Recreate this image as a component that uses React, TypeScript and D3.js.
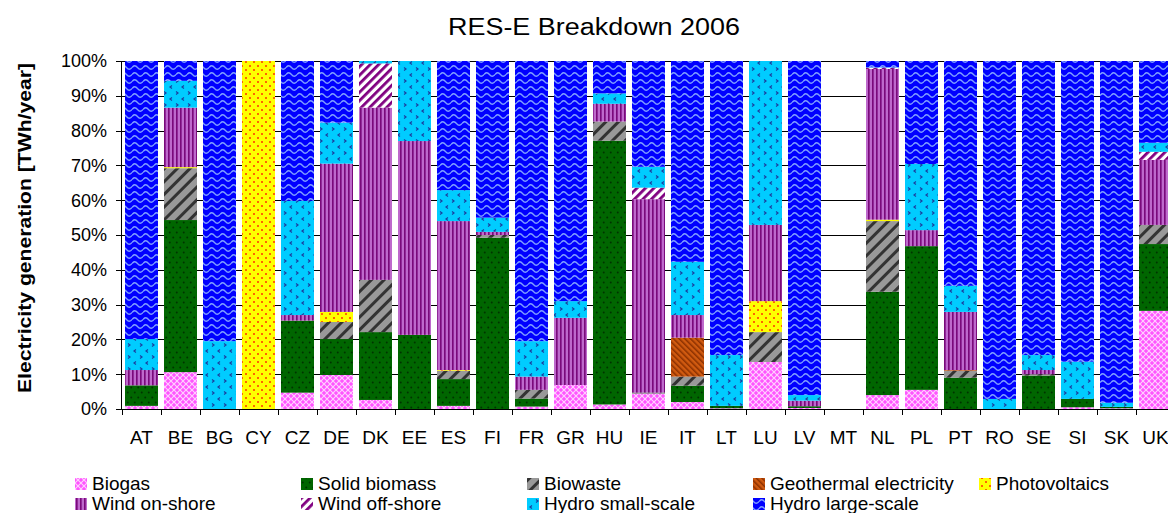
import * as d3 from "d3";

// categories
const countries = ["AT", "BE", "BG", "CY", "CZ", "DE", "DK", "EE", "ES", "FI", "FR", "GR", "HU", "IE", "IT", "LT", "LU", "LV", "MT", "NL", "PL", "PT", "RO", "SE", "SI", "SK", "UK"];

// shares in % per country
const biogas = [0.9, 10.6, 0, 0, 4.7, 9.8, 2.6, 0, 0.9, 0, 0.7, 6.9, 1.3, 4.5, 2.0, 0.2, 13.5, 0.3, 0, 4.0, 5.5, 0, 0, 0, 0.5, 0.2, 28.2];
const solidBiomass = [5.9, 43.7, 0, 0, 20.7, 10.3, 19.5, 21.3, 7.7, 49.2, 2.3, 0, 75.8, 0.2, 4.7, 0.7, 0, 0.5, 0, 29.7, 41.3, 9.0, 0, 9.6, 2.4, 0.4, 19.2];
const biowaste = [0, 14.9, 0, 0, 0, 4.9, 15.0, 0, 2.4, 0.8, 2.5, 0, 5.5, 0, 2.6, 0, 8.6, 0, 0, 20.3, 0, 2.0, 0, 0.4, 0, 0, 5.5];
const geothermal = [0, 0, 0, 0, 0, 0, 0, 0, 0, 0, 0, 0, 0, 0, 11.2, 0, 0, 0, 0, 0, 0, 0.2, 0, 0, 0, 0, 0];
const photovoltaics = [0, 0.3, 0, 100, 0, 2.9, 0, 0, 0.2, 0, 0, 0, 0, 0, 0, 0, 8.9, 0, 0, 0.4, 0, 0, 0, 0, 0, 0, 0];
const windOnShore = [4.4, 17.1, 0, 0, 1.6, 42.6, 49.5, 55.7, 42.8, 0.9, 3.8, 19.3, 5.1, 55.6, 6.5, 0, 21.9, 1.6, 0, 43.3, 4.6, 16.7, 0, 1.2, 0, 0, 18.7];
const windOffShore = [0, 0, 0, 0, 0, 0, 12.7, 0, 0, 0, 0, 0, 0, 3.3, 0, 0, 0, 0, 0, 0.4, 0, 0, 0, 0, 0, 0, 2.3];
const hydroSmall = [8.9, 7.7, 19.5, 0, 32.8, 11.8, 0.7, 23.0, 8.9, 4.1, 10.2, 4.8, 3.0, 6.0, 15.3, 14.6, 47.1, 1.6, 0, 0.1, 19.0, 7.5, 2.9, 4.3, 10.7, 1.2, 2.6];
const hydroLarge = [79.9, 5.7, 80.5, 0, 40.2, 17.7, 0, 0, 37.1, 45.0, 80.5, 69.0, 9.3, 30.4, 57.7, 84.5, 0, 96.0, 0, 1.8, 29.6, 64.6, 97.1, 84.5, 86.4, 98.2, 23.5];

const seriesNames = ["Biogas", "Solid biomass", "Biowaste", "Geothermal electricity", "Photovoltaics", "Wind on-shore", "Wind off-shore", "Hydro small-scale", "Hydro large-scale"];
const seriesValues = [biogas, solidBiomass, biowaste, geothermal, photovoltaics, windOnShore, windOffShore, hydroSmall, hydroLarge];
const yTicks = [0, 10, 20, 30, 40, 50, 60, 70, 80, 90, 100];

const patternIds = ["pBiogas", "pSolid", "pBiowaste", "pGeo", "pPV", "pWindOn", "pWindOff", "pHydroS", "pHydroL"];
const font = "'Liberation Sans', Arial, sans-serif";

const Patterns = () => (
  <defs>
    <pattern id="pBiogas" patternUnits="userSpaceOnUse" width="6" height="6">
      <rect width="6" height="6" fill="#ff55ff" />
      <path d="M0,0 L6,6 M6,0 L0,6" stroke="#ffd0ff" strokeWidth="1.2" />
    </pattern>
    <pattern id="pSolid" patternUnits="userSpaceOnUse" width="7" height="10">
      <rect width="7" height="10" fill="#006600" />
      <circle cx="1.75" cy="2.5" r="1" fill="#003300" />
      <circle cx="5.25" cy="7.5" r="1" fill="#003300" />
    </pattern>
    <pattern id="pBiowaste" patternUnits="userSpaceOnUse" width="9" height="9" patternTransform="rotate(45)">
      <rect width="9" height="9" fill="#999999" />
      <rect width="3" height="9" fill="#333333" />
    </pattern>
    <pattern id="pGeo" patternUnits="userSpaceOnUse" width="4" height="4" patternTransform="rotate(-45)">
      <rect width="4" height="4" fill="#d05a10" />
      <rect width="1.5" height="4" fill="#8b3000" />
    </pattern>
    <pattern id="pPV" patternUnits="userSpaceOnUse" width="8" height="8">
      <rect width="8" height="8" fill="#ffff00" />
      <circle cx="2" cy="2" r="1" fill="#ff3300" />
      <circle cx="6" cy="6" r="1" fill="#ff3300" />
    </pattern>
    <pattern id="pWindOn" patternUnits="userSpaceOnUse" width="4" height="4">
      <rect width="4" height="4" fill="#a848b8" />
      <rect x="0" width="1.5" height="4" fill="#7a0a7a" />
      <rect x="2.5" width="1" height="4" fill="#d58ae0" />
    </pattern>
    <pattern id="pWindOff" patternUnits="userSpaceOnUse" width="6" height="6" patternTransform="rotate(45)">
      <rect width="6" height="6" fill="#ffffff" />
      <rect width="2.8" height="6" fill="#800080" />
    </pattern>
    <pattern id="pHydroS" patternUnits="userSpaceOnUse" width="12" height="12">
      <rect width="12" height="12" fill="#00ccff" />
      <path d="M4,1.5 L2,3 L4,4.5 M8,7.5 L10,9 L8,10.5" stroke="#1a3fa0" strokeWidth="1.2" fill="none" />
    </pattern>
    <pattern id="pHydroL" patternUnits="userSpaceOnUse" width="11" height="7">
      <rect width="11" height="7" fill="#0000ff" />
      <path d="M0,4.5 Q2.75,1 5.5,4.5 T11,4.5" stroke="#7fa0ff" strokeWidth="1.3" fill="none" />
    </pattern>
  </defs>
);

export default function App() {
  const width = 1168;
  const height = 513;

  const x = d3.scaleBand<string>().domain(countries).range([122, 1175]).paddingInner(0.154).paddingOuter(0.077);
  const y = d3.scaleLinear().domain([0, 100]).range([409, 61]);

  const rows = countries.map((c, i) => {
    const r: Record<string, any> = { country: c };
    seriesNames.forEach((s, k) => (r[s] = seriesValues[k][i]));
    return r;
  });
  const stacked = d3.stack<any>().keys(seriesNames)(rows);

  const step = x.step();
  const x0 = x.range()[0];

  return (
    <svg width={width} height={height} style={{ position: "absolute", left: 0, top: 0 }} fontFamily={font}>
      <Patterns />
      <rect width={width} height={height} fill="#fff" />

      {/* gridlines */}
      {yTicks.map((t) => (
        <line key={t} x1={122} x2={1175} y1={Math.round(y(t)) + 0.5} y2={Math.round(y(t)) + 0.5} stroke="#000" strokeWidth={1} />
      ))}

      {/* bars */}
      {stacked.map((layer, k) => (
        <g key={layer.key} fill={`url(#${patternIds[k]})`}>
          {layer.map((d, i) =>
            d[1] - d[0] > 0 ? (
              <rect key={i} x={x(countries[i])} width={x.bandwidth()} y={y(d[1])} height={y(d[0]) - y(d[1])} />
            ) : null
          )}
        </g>
      ))}

      {/* y axis */}
      <line x1={121.5} x2={121.5} y1={61} y2={409} stroke="#000" />
      {yTicks.map((t) => (
        <g key={t}>
          <line x1={116} x2={122} y1={Math.round(y(t)) + 0.5} y2={Math.round(y(t)) + 0.5} stroke="#000" />
          <text x={107} y={y(t)} dy="0.36em" textAnchor="end" fontSize={18}>
            {t}%
          </text>
        </g>
      ))}

      {/* x axis */}
      <line x1={121} x2={1175} y1={409.5} y2={409.5} stroke="#000" />
      {d3.range(countries.length + 1).map((i) => (
        <line key={i} x1={Math.round(x0 + i * step) + 0.5} x2={Math.round(x0 + i * step) + 0.5} y1={409} y2={415} stroke="#000" />
      ))}
      {countries.map((c) => (
        <text key={c} x={(x(c) as number) + x.bandwidth() / 2} y={444} textAnchor="middle" fontSize={19}>
          {c}
        </text>
      ))}

      {/* titles */}
      <text x={594} y={35} textAnchor="middle" fontSize={23} textLength={292} lengthAdjust="spacingAndGlyphs">
        RES-E Breakdown 2006
      </text>
      <text transform="translate(31,228) rotate(-90)" textAnchor="middle" fontSize={18} fontWeight="bold" textLength={330} lengthAdjust="spacingAndGlyphs">
        Electricity generation [TWh/year]
      </text>

      {/* legend */}
      {seriesNames.map((s, k) => {
        const col = k < 5 ? k : k - 5;
        const row = k < 5 ? 0 : 1;
        const lx = 75 + col * 226;
        const ly = 490 + row * 20;
        return (
          <g key={s}>
            <rect x={lx} y={ly - 12} width={12} height={12} fill={`url(#${patternIds[k]})`} />
            <text x={lx + 17} y={ly} fontSize={19}>
              {s}
            </text>
          </g>
        );
      })}
    </svg>
  );
}
